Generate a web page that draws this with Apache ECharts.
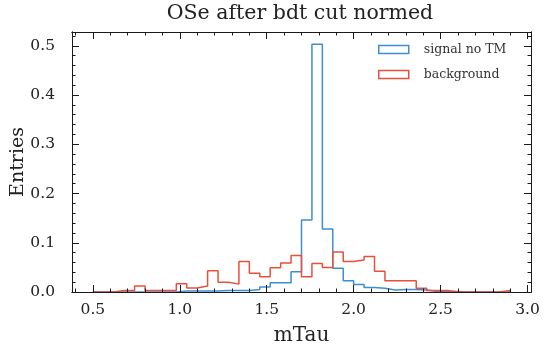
<!DOCTYPE html>
<html><head><meta charset="utf-8">
<script src="https://cdn.jsdelivr.net/npm/echarts@6/dist/echarts.min.js"></script>
<style>html,body{margin:0;padding:0;background:#fff}#c{width:544px;height:348px}</style>
</head><body><div id="c"></div>
<script>
const binStart = 0.5, binWidth = 0.06;
const signalNoTM = [0,0,0,0,0,0,0,0,0.002,0.002,0.002,0.002,0.003,0.003,0.003,0.005,0.010,0.019,0.019,0.041,
  0.146,0.503,0.128,0.048,0.023,0.015,0.009,0.0075,0.004,0.005,0.005,0.004,0.001,0.001,0.001,0,0,0,0,0];
const background = [0,0,0.003,0.003,0.012,0.003,0.003,0.003,0.017,0.008,0.012,0.043,0.020,0.016,0.062,0.038,0.031,0.049,0.059,0.074,
  0.031,0.058,0.050,0.081,0.062,0.065,0.072,0.042,0.023,0.023,0.023,0.0075,0.003,0.003,0,0,0,0,0,0.003];
const xMajor = [0.5,1.0,1.5,2.0,2.5,3.0];
const xMinor = [0.4,0.6,0.7,0.8,0.9,1.1,1.2,1.3,1.4,1.6,1.7,1.8,1.9,2.1,2.2,2.3,2.4,2.6,2.7,2.8,2.9];
const yMajor = [0.0,0.1,0.2,0.3,0.4,0.5];
const yMinor = [0.02,0.04,0.06,0.08,0.12,0.14,0.16,0.18,0.22,0.24,0.26,0.28,0.32,0.34,0.36,0.38,0.42,0.44,0.46,0.48,0.52];
const xMin = 0.38, xMax = 3.02, yMin = 0, yMax = 0.528;

function steps(vals){
  const pts = [[binStart,0]];
  vals.forEach((v,i)=>{
    const a = +(binStart + i*binWidth).toFixed(4), b = +(binStart + (i+1)*binWidth).toFixed(4);
    pts.push([a,v]); pts.push([b,v]);
  });
  pts.push([+(binStart + vals.length*binWidth).toFixed(4),0]);
  return pts;
}
const FONT = '"DejaVu Serif", "Liberation Serif", serif';
const BLUE = '#3d8fd1', RED = '#e8503d', INK = '#1a1a1a';
function xa(grid, pos, vals, len, labels){
  return {type:'value', gridIndex:grid, position:pos, offset:0, min:xMin, max:xMax, z:5,
    axisLine:{show:true, onZero:false, lineStyle:{color:INK, width:1}},
    axisTick:{show:true, inside:true, length:len, customValues:vals, lineStyle:{color:INK, width:1}},
    axisLabel:{show:labels, customValues:vals, formatter:v=>v.toFixed(1), color:'#222', fontFamily:FONT, fontSize:15.5, margin:10},
    splitLine:{show:false}};
}
function ya(grid, pos, vals, len, labels){
  return {type:'value', gridIndex:grid, position:pos, offset:0, min:yMin, max:yMax, z:5,
    axisLine:{show:true, onZero:false, lineStyle:{color:INK, width:1}},
    axisTick:{show:true, inside:true, length:len, customValues:vals, lineStyle:{color:INK, width:1}},
    axisLabel:{show:labels, customValues:vals, formatter:v=>v.toFixed(1), color:'#222', fontFamily:FONT, fontSize:15.5, margin:17},
    splitLine:{show:false}};
}
const xAxes = [xa(0,'bottom', xMajor, 7, true), xa(0,'top', xMajor, 7, false), xa(1,'bottom', xMinor, 3.5, false), xa(1,'top', xMinor, 3.5, false)];
xAxes[0].name = 'mTau'; xAxes[0].nameLocation = 'middle'; xAxes[0].nameGap = 34; xAxes[0].nameMoveOverlap = false;
xAxes[0].nameTextStyle = {fontFamily:FONT, fontSize:20, color:'#222'};
const yAxes = [ya(0,'left', yMajor, 7, true), ya(0,'right', yMajor, 7, false), ya(1,'left', yMinor, 3.5, false), ya(1,'right', yMinor, 3.5, false)];
yAxes[0].name = 'Entries'; yAxes[0].nameLocation = 'middle'; yAxes[0].nameGap = 44; yAxes[0].nameMoveOverlap = false;
yAxes[0].nameTextStyle = {fontFamily:FONT, fontSize:19, color:'#222'};

const G = {left:72, top:32, right:13, bottom:56, containLabel:false, outerBoundsMode:'none'};
const chart = echarts.init(document.getElementById('c'), null, {renderer:'canvas'});
chart.setOption({
  animation:false,
  backgroundColor:'#fff',
  title:{text:'OSe after bdt cut normed', left:300, textAlign:'center', top:3, padding:0, textStyle:{fontFamily:FONT, fontSize:20.5, fontWeight:'normal', color:'#222'}},
  grid:[Object.assign({}, G), Object.assign({}, G)],
  legend:{orient:'vertical', left:378, top:43, padding:0, itemWidth:30, itemHeight:8, itemGap:12,
    icon:'rect',
    textStyle:{fontFamily:FONT, fontSize:12.5, color:'#333', padding:[0,0,0,10]},
    data:[{name:'signal no TM', itemStyle:{color:'rgba(0,0,0,0)', borderColor:BLUE, borderWidth:1.5}},
          {name:'background', itemStyle:{color:'rgba(0,0,0,0)', borderColor:RED, borderWidth:1.5}}]},
  xAxis: xAxes,
  yAxis: yAxes,
  series:[
    {name:'signal no TM', type:'line', xAxisIndex:0, yAxisIndex:0, data:steps(signalNoTM), showSymbol:false, symbol:'none',
     lineStyle:{color:BLUE, width:1.5}, itemStyle:{color:BLUE}, z:2},
    {name:'background', type:'line', xAxisIndex:0, yAxisIndex:0, data:steps(background), showSymbol:false, symbol:'none',
     lineStyle:{color:RED, width:1.5}, itemStyle:{color:RED}, z:3}
  ]
});
</script></body></html>
